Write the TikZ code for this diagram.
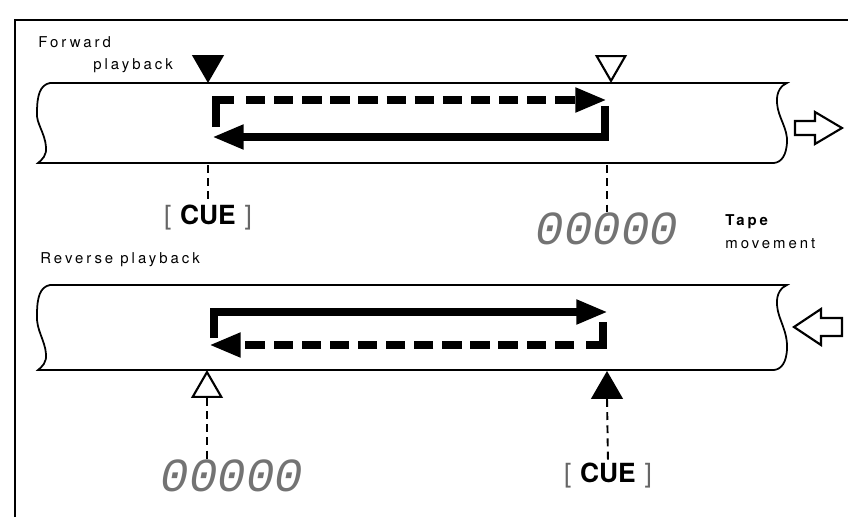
\documentclass[tikz,border=0pt]{standalone}
\usepackage{fontspec}
\setsansfont{TeX Gyre Heros}
\newfontfamily\notefont[LetterSpace=20]{TeX Gyre Heros}
\newfontfamily\lcdfont{Liberation Mono}
\usetikzlibrary{arrows.meta,positioning,shapes.geometric}

\begin{document}
\begin{tikzpicture}[x=0.02cm,y=-0.02cm,
    tape/.style={line width=1pt},
    run/.style={line width=5pt,line join=miter},
    tip/.style={-{Triangle[length=18pt,width=13pt]}},
    fast/.style={dash pattern=on 11pt off 5pt},
    leader/.style={line width=1.1pt,dash pattern=on 4.5pt off 3pt},
    tri/.style={regular polygon,regular polygon sides=3,draw,line width=1.2pt,
      inner sep=0,minimum size=0.66cm,anchor=corner 1},
    cuedown/.style={tri,shape border rotate=180},
    cueup/.style={tri},
    cuelbl/.style={font=\sffamily\fontsize{15}{15}\selectfont,inner sep=1pt},
    cntlbl/.style={font=\lcdfont\itshape\fontsize{27}{27}\selectfont,text=black!55,inner sep=0},
    note/.style={font=\notefont\fontsize{8.5}{9}\selectfont,anchor=west,inner sep=0}]
  \useasboundingbox (0,0) rectangle (848,517);
  % frame
  \draw[line width=1.5pt] (15,517) -- (15,20) -- (848,20);
  % the two tapes
  \foreach \ty/\tb in {83/163,285/370}
  {
    \draw[tape] (50,\ty) -- (787,\ty)
      .. controls (782,\ty+2) and (776,\ty+8) .. (777,\ty+20)
      .. controls (778,\ty+35) and (788,\ty+45) .. (787,\tb-20)
      .. controls (786,\tb-8) and (782,\tb-1) .. (774,\tb)
      -- (38,\tb)
      .. controls (42,\tb-3) and (47,\tb-8) .. (46,\tb-16)
      .. controls (45,\tb-30) and (36,\tb-40) .. (37,\ty+30)
      .. controls (37,\ty+12) and (40,\ty+2) .. cycle;
  }

  % forward playback
  \node[note] (fwd) at (38,42) {Forward};
  \node[note] (fwdpb) at (93,66) {playback};
  \node[cuedown,fill] (fcue) at (208,83) {};
  \node[cuedown] (fend) at (611,83) {};
  \draw[run] (216,127) -- (216,100) -- (234,100);
  \draw[run,fast,tip] (246,100) -- (607,100);
  \draw[run,tip] (605,106) -- (605,137) -- (212,137);
  \coordinate (fcuebot) at (208,165);
  \coordinate (fendbot) at (607,165);
  \node[cuelbl] (fcuelbl) at (208,218) {\textcolor{black!60}{[}\hspace{5pt}\textbf{CUE}\hspace{5pt}\textcolor{black!60}{]}};
  \node[cntlbl] (fcnt) at (607,229) {00000};
  \draw[leader] (fcuebot) -- (fcuelbl.north);
  \draw[leader] (fendbot) -- (fcnt.north);
  \draw[line width=1.2pt] (795,121) -- (815,121) -- (815,112) -- (842,128)
    -- (815,144) -- (815,135) -- (795,135) -- cycle;

  % tape movement
  \node[note,font=\notefont\bfseries\fontsize{8.5}{9}\selectfont] (tapelbl) at (725,222) {Tape};
  \node[note] (movelbl) at (725,244) {movement};

  % reverse playback
  \node[note] (rev) at (40,260) {Reverse playback};
  \draw[run,tip] (214,338) -- (214,312) -- (608,312);
  \draw[run] (603,322) -- (603,345) -- (586,345);
  \draw[run,fast,tip] (574,345) -- (209,345);
  \node[cueup] (rend) at (207,370) {};
  \node[cueup,fill] (rcue) at (607,371) {};
  \node[cntlbl] (rcnt) at (232,476) {00000};
  \node[cuelbl] (rcuelbl) at (608,476) {\textcolor{black!60}{[}\hspace{5pt}\textbf{CUE}\hspace{5pt}\textcolor{black!60}{]}};
  \draw[leader] (rend.side 2) -- (rend.side 2 |- rcnt.north);
  \draw[leader] (rcue.side 2) -- (rcuelbl.north);
  \draw[line width=1.2pt] (842,318) -- (821,318) -- (821,309) -- (794,327)
    -- (821,345) -- (821,336) -- (842,336) -- cycle;
\end{tikzpicture}
\end{document}
